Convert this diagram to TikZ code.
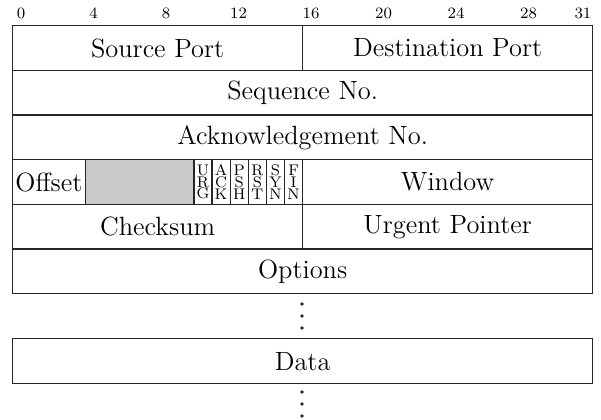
\documentclass[tikz,border=0pt]{standalone}
\usetikzlibrary{positioning}
\tikzset{
  field/.style={draw=black!85, line width=0.65pt, inner sep=0pt, anchor=north west,
    font=\fontsize{13.2}{15}\selectfont},
  flag/.style={field, font=\fontsize{7.7}{5.9}\selectfont, align=center},
  bitlabel/.style={font=\fontsize{7.9}{8}\selectfont, inner sep=0pt},
  dot/.style={circle, fill=black!85, inner sep=0pt, minimum size=1.8pt},
}
\begin{document}
\begin{tikzpicture}[x=0.5pt, y=-0.5pt]
\useasboundingbox (0,0) rectangle (601,419);
% bit labels
\foreach \b in {0,4,8,12,16,20,24,28,31}
  \node[bitlabel] (b\b) at ({12+(\b+0.5)*18.125},13) {\b};
% row 1
\node[field, minimum width=145pt, minimum height=22.35pt] (src) at (12,25) {Source Port};
\node[field, minimum width=145pt, minimum height=22.35pt] (dst) at (302,25) {Destination Port};
% row 2
\node[field, minimum width=290pt, minimum height=22.35pt] (seq) at (12,69.7) {Sequence No.};
% row 3
\node[field, minimum width=290pt, minimum height=22.35pt] (ack) at (12,114.3) {Acknowledgement No.};
% row 4
\node[field, minimum width=36.25pt, minimum height=22.35pt] (off) at (12,159) {Offset};
\node[field, fill=black!21, minimum width=54.375pt, minimum height=22.35pt] (res) at (84.5,159) {};
\node[flag, minimum width=9.0625pt, minimum height=22.35pt] (urg) at (193.25,159) {U\\R\\G};
\node[flag, minimum width=9.0625pt, minimum height=22.35pt] (ackf) at (211.375,159) {A\\C\\K};
\node[flag, minimum width=9.0625pt, minimum height=22.35pt] (psh) at (229.5,159) {P\\S\\H};
\node[flag, minimum width=9.0625pt, minimum height=22.35pt] (rst) at (247.625,159) {R\\S\\T};
\node[flag, minimum width=9.0625pt, minimum height=22.35pt] (syn) at (265.75,159) {S\\Y\\N};
\node[flag, minimum width=9.0625pt, minimum height=22.35pt] (fin) at (283.875,159) {F\\I\\N};
\node[field, minimum width=145pt, minimum height=22.35pt] (win) at (302,159) {Window};
% row 5
\node[field, minimum width=145pt, minimum height=22.35pt] (chk) at (12,203.7) {Checksum};
\node[field, minimum width=145pt, minimum height=22.35pt] (urgp) at (302,203.7) {Urgent Pointer};
% row 6
\node[field, minimum width=290pt, minimum height=22.35pt] (opt) at (12,248.3) {Options};
% dots
\node[dot] (d1) at (302,304) {};
\node[dot] (d2) at (302,316) {};
\node[dot] (d3) at (302,328) {};
% data
\node[field, minimum width=290pt, minimum height=22.5pt] (data) at (12,338) {Data};
\node[dot] (d4) at (302,392) {};
\node[dot] (d5) at (302,404) {};
\node[dot] (d6) at (302,416) {};
\end{tikzpicture}
\end{document}
